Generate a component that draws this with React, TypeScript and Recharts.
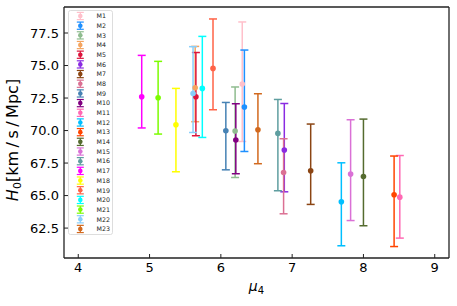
import React from 'react';
import { ScatterChart, Scatter, XAxis, YAxis, ErrorBar, Customized } from 'recharts';

const names = ['M1','M2','M3','M4','M5','M6','M7','M8','M9','M10','M11','M12','M13','M14','M15','M16','M17','M18','M19','M20','M21','M22','M23'];
const colors = ['#FFC0CB','#1E90FF','#8FBC8F','#F4A460','#DC143C','#8A2BE2','#8B4513','#DB7093','#4682B4','#800080','#FF69B4','#00BFFF','#FF4500','#556B2F','#DA70D6','#5F9EA0','#FF00FF','#FFFF00','#FF6347','#00FFFF','#7CFC00','#87CEFA','#D2691E'];
const muValues = [6.30, 6.33, 6.20, 5.64, 5.65, 6.89, 7.26, 6.88, 6.07, 6.21, 8.51, 7.69, 8.43, 8.00, 7.82, 6.80, 4.89, 5.37, 5.89, 5.74, 5.12, 5.61, 6.52];
const h0Values = [73.58, 71.81, 69.96, 73.29, 72.60, 68.50, 66.91, 66.78, 69.98, 69.27, 64.88, 64.52, 65.06, 66.47, 66.65, 69.78, 72.60, 70.45, 74.78, 73.24, 72.52, 72.85, 70.06];
const lowValues = [69.16, 68.39, 66.39, 70.68, 69.60, 65.29, 64.32, 63.60, 66.98, 66.68, 61.73, 61.14, 61.08, 62.68, 63.08, 65.37, 70.20, 66.83, 71.60, 69.47, 69.73, 69.85, 67.45];
const highValues = [78.35, 76.19, 73.35, 76.47, 76.00, 72.08, 70.50, 69.37, 72.16, 72.06, 68.08, 67.52, 68.04, 70.88, 70.83, 72.39, 75.78, 73.24, 78.58, 77.24, 75.32, 76.45, 72.83];
const xTicks = [4, 5, 6, 7, 8, 9];
const yTicks = [62.5, 65.0, 67.5, 70.0, 72.5, 75.0, 77.5];
const xDomain = [3.8, 9.2];
const yDomain = [60.2, 79.5];

const series = names.map((name, i) => ({
  name,
  color: colors[i],
  data: [{ x: muValues[i], y: h0Values[i], err: [h0Values[i] - lowValues[i], highValues[i] - h0Values[i]] }],
}));

const FONT = 'DejaVu Sans, sans-serif';
const AX = '#222';

const makeDot = (color: string) => (props: any) => {
  const { cx, cy } = props;
  if (cx == null || cy == null) return <g />;
  return <circle cx={cx} cy={cy} r={2.8} fill={color} />;
};

const Nothing = () => <g />;

const LegendBox = () => {
  const left = 68.5;
  const top = 10.5;
  const w = 44;
  const h = 224;
  const first = 16;
  const step = 9.68;
  return (
    <g>
      <rect x={left} y={top} width={w} height={h} rx={2} ry={2} fill="#fff" fillOpacity={0.8} stroke="#d4d4d4" strokeWidth={0.8} />
      {series.map((s, i) => {
        const cy = first + i * step;
        const mx = 80.3;
        return (
          <g key={s.name}>
            <line x1={mx} x2={mx} y1={cy - 3.6} y2={cy + 3.6} stroke={s.color} strokeWidth={1.2} />
            <line x1={mx - 3.5} x2={mx + 3.5} y1={cy - 3.6} y2={cy - 3.6} stroke={s.color} strokeWidth={1.2} />
            <line x1={mx - 3.5} x2={mx + 3.5} y1={cy + 3.6} y2={cy + 3.6} stroke={s.color} strokeWidth={1.2} />
            <circle cx={mx} cy={cy} r={2.3} fill={s.color} />
            <text x={96.5} y={cy} dy="0.36em" fontSize={6.3} fontFamily={FONT} fill="#222">{s.name}</text>
          </g>
        );
      })}
    </g>
  );
};

const AxisLabels = () => (
  <g fontFamily={FONT} fill="#000">
    <text x={256.5} y={291} textAnchor="middle" fontSize={14}>
      <tspan fontStyle="italic">μ</tspan>
      <tspan fontSize={10} dy={3}>4</tspan>
    </text>
    <text transform="translate(18,140) rotate(-90)" textAnchor="middle" fontSize={16}>
      <tspan fontStyle="italic">H</tspan>
      <tspan fontSize={11} dy={3}>0</tspan>
      <tspan dy={-3}>[km</tspan>
      <tspan dx={3.5}>/</tspan>
      <tspan dx={3.5}>s</tspan>
      <tspan dx={3.5}>/</tspan>
      <tspan dx={3.5}>Mpc]</tspan>
    </text>
  </g>
);

export default function App() {
  const tickStyle = { fill: '#000', fontSize: 13, fontFamily: FONT };
  const axisLine = { stroke: AX, strokeWidth: 1.3 };
  const tickLine = { stroke: AX, strokeWidth: 1 };
  return (
    <div style={{ position: 'absolute', left: 0, top: 0, width: 457, height: 306, background: '#fff' }}>
      <ScatterChart width={457} height={306} margin={{ top: 6, right: 7, bottom: 0, left: 0 }}>
        <XAxis
          xAxisId="b"
          type="number"
          dataKey="x"
          domain={xDomain}
          ticks={xTicks}
          allowDataOverflow
          height={48}
          tickSize={-4}
          tickMargin={9}
          tick={tickStyle}
          axisLine={axisLine}
          tickLine={tickLine}
          tickFormatter={(v: number) => String(v)}
        />
        <XAxis
          xAxisId="t"
          orientation="top"
          type="number"
          dataKey="x"
          domain={xDomain}
          ticks={xTicks}
          allowDataOverflow
          height={1}
          tickSize={-4}
          tick={false}
          axisLine={axisLine}
          tickLine={tickLine}
        />
        <YAxis
          yAxisId="l"
          type="number"
          dataKey="y"
          domain={yDomain}
          ticks={yTicks}
          allowDataOverflow
          width={64}
          tickSize={-4}
          tickMargin={9}
          tick={tickStyle}
          axisLine={axisLine}
          tickLine={tickLine}
          tickFormatter={(v: number) => v.toFixed(1)}
        />
        <YAxis
          yAxisId="r"
          orientation="right"
          type="number"
          dataKey="y"
          domain={yDomain}
          ticks={yTicks}
          allowDataOverflow
          width={1}
          tickSize={-4}
          tick={false}
          axisLine={axisLine}
          tickLine={tickLine}
        />
        <Scatter
          name="frame"
          xAxisId="t"
          yAxisId="r"
          data={series[0].data}
          dataKey="y"
          shape={Nothing}
          legendType="none"
          isAnimationActive={false}
        />
        {series.map((s) => (
          <Scatter
            key={s.name}
            name={s.name}
            xAxisId="b"
            yAxisId="l"
            data={s.data}
            dataKey="y"
            fill={s.color}
            shape={makeDot(s.color)}
            isAnimationActive={false}
          >
            <ErrorBar dataKey="err" direction="y" width={4} stroke={s.color} strokeWidth={1.5} isAnimationActive={false} />
          </Scatter>
        ))}
        <Customized component={AxisLabels} />
        <Customized component={LegendBox} />
      </ScatterChart>
    </div>
  );
}
